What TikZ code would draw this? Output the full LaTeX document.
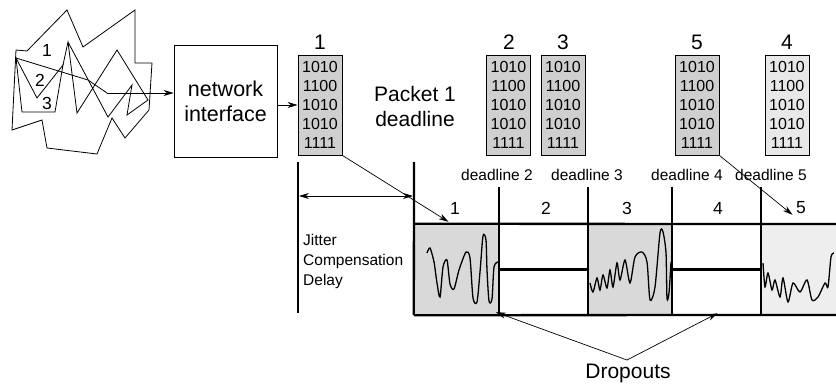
\documentclass[tikz,border=0pt]{standalone}
\usepackage{fontspec}
\setmainfont{Liberation Sans}
\usetikzlibrary{arrows.meta,calc}

\begin{document}
\begin{tikzpicture}[x=1pt,y=-1pt,
  thinline/.style={line width=0.8pt},
  heavy/.style={line width=2.3pt},
  arr/.style={line width=0.7pt,-{Stealth[length=10pt,width=6pt]}},
  pkt/.style={draw,line width=0.9pt,fill=gray!38,minimum width=44pt,minimum height=100pt,
    inner sep=0pt,align=center,font=\fontsize{16}{19}\selectfont},
  pktlight/.style={pkt,fill=gray!18},
  big/.style={font=\fontsize{21}{25}\selectfont,inner sep=0pt},
  mid/.style={font=\fontsize{17.5}{20}\selectfont,inner sep=0pt},
  small/.style={font=\fontsize{15.5}{20}\selectfont,inner sep=0pt},
  cellbox/.style={minimum height=91pt,inner sep=0pt},
  wave/.style={line width=1.3pt,smooth,tension=0.45}]
\useasboundingbox (0,0) rectangle (836,385);

% traffic cloud with the three packet routes
\draw[thinline] (16,50) -- (27,51) -- (67,10) -- (83,47) -- (135,10) -- (135,63) -- (152,63)
  -- (149,110) -- (125,138) -- (112,118) -- (97,154) -- (47,148) -- (42,120) -- (12,130) -- cycle;
\draw[thinline] (16,58) -- (37,98) -- (63,65) -- (55,112) -- (22,112) -- cycle;
\draw[thinline] (63,65) -- (68,42) -- (77,113) -- (117,50) -- (148,100) -- (127,115) -- (132,85)
  -- (108,117) -- (68,42);
\coordinate (route) at (107,93);
\draw[thinline] (16,58) -- (88,80) -- (route);
\node[mid] (n1) at (47,50) {1};
\node[mid] (n2) at (40,80) {2};
\node[mid] (n3) at (47,103) {3};

% network interface
\node[draw,thinline,minimum width=103pt,minimum height=112pt,align=center,
  font=\fontsize{21.5}{25}\selectfont] (ni) at (225.5,101) {network\\interface};
\draw[arr] (route) -- (route -| ni.west);

% arriving packets
\node[pkt] (p1) at (320,105) {1010\\1100\\1010\\1010\\1111};
\node[pkt] (p2) at (508.5,105) {1010\\1100\\1010\\1010\\1111};
\node[pkt] (p3) at (563,105) {1010\\1100\\1010\\1010\\1111};
\node[pkt] (p5) at (697,105) {1010\\1100\\1010\\1010\\1111};
\node[pktlight] (p4) at (787,105) {1010\\1100\\1010\\1010\\1111};
\node[big] (l1) at (320,42) {1};
\node[big] (l2) at (509,42) {2};
\node[big] (l3) at (563,42) {3};
\node[big] (l5) at (697,42) {5};
\node[big] (l4) at (787,42) {4};
\draw[arr] (ni.east |- p1.west) -- (p1.west);

\node[big,align=center] (pdl) at (415,106) {Packet 1\\deadline};

% playout slots
\node[cellbox,fill=gray!30,minimum width=85pt] (k1) at (456.5,269.5) {};
\node[cellbox,minimum width=89pt] (k2) at (543.5,269.5) {};
\node[cellbox,fill=gray!30,minimum width=84pt] (k3) at (630,269.5) {};
\node[cellbox,minimum width=89pt] (k4) at (716.5,269.5) {};
\node[cellbox,fill=gray!13,minimum width=75pt] (k5) at (798.5,269.5) {};

% waveforms played out in the filled slots
\draw[wave] plot coordinates {(427,253) (430,248) (434,262) (437,283) (440,297) (443,267)
  (447,260) (450,284) (454,289) (459,270) (466,252) (470,258) (473,298) (477,302) (480,272)
  (483,236) (486,240) (487,270) (489,301) (492,299) (494,267) (498,262)};
\draw[wave] plot coordinates {(590,283) (593,292) (597,278) (600,290) (603,275) (607,288)
  (610,270) (613,287) (617,263) (620,280) (625,260) (630,283) (635,257) (642,252) (647,262)
  (650,300) (655,287) (660,233) (663,232) (666,253) (667,298) (669,293) (671,262)};
\draw[wave] plot coordinates {(763,263) (765,287) (768,273) (772,290) (775,280) (780,297)
  (783,278) (788,302) (793,283) (800,292) (807,280) (812,300) (818,297) (825,283) (828,287)
  (831,257) (834,253)};

% slot grid
\draw[heavy] (k1.north west) -- (836,224);
\draw[heavy] (k1.south west) -- (836,315);
\draw[heavy] (k2.west) -- (k2.east);
\draw[heavy] (k4.west) -- (k4.east);
\foreach \k in {k2,k3,k4,k5}
  \draw[heavy] ($(\k.north west)+(0,-37)$) -- (\k.south west);

% jitter compensation delay
\coordinate (jl) at (298,162);
\coordinate (jr) at (414,162);
\draw[heavy] (jl) -- (298,313);
\draw[heavy] (jr) -- (k1.south west);
\draw[line width=0.7pt,{Stealth[length=10pt,width=6pt]}-{Stealth[length=10pt,width=6pt]}]
  ($(jl)+(1,34)$) -- ($(jr)+(-1,34)$);
\node[small,align=left,anchor=north west] (jit) at (303,234)
  {Jitter\\Compensation\\Delay};

% deadlines
\node[small] (d2) at (497,175) {deadline 2};
\node[small] (d3) at (587,175) {deadline 3};
\node[small] (d4) at (687,175) {deadline 4};
\node[small] (d5) at (771,175) {deadline 5};

% slot numbers
\node[mid] (s1) at (455,208) {1};
\node[mid] (s2) at (546,208) {2};
\node[mid] (s3) at (627,208) {3};
\node[mid] (s4) at (718,208) {4};
\node[mid] (s5) at (801,208) {5};

% packets mapped to slots
\draw[arr] (p1.south east) -- ($(k1.north)+(-8,-2)$);
\draw[arr] (p5.south east) -- ($(k5.north)+(-6,-9)$);

% dropouts
\node[big] (drop) at (628,373) {Dropouts};
\coordinate (apex) at (627,360);
\draw[arr] (apex) -- ($(k2.south west)+(-3,-3)$);
\draw[arr] (apex) -- ($(k4.south)+(1,-2)$);
\end{tikzpicture}
\end{document}
